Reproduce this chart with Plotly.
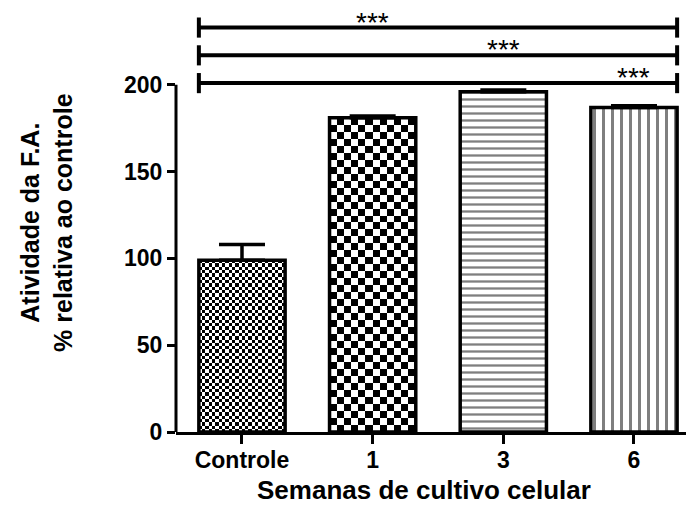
import plotly.graph_objects as go

# dados
categorias = ["Controle", "1", "3", "6"]
media = [99, 181, 196, 187]
erro = [9, 1, 1, 1]

# barras de significância (nível em y e posição do texto)
sig_nivel = [233, 217, 201]
sig_texto = ["***", "***", "***"]
sig_grupo = [1, 2, 3]

largura = 0.66
px_x = 130.7   # pixels por categoria
px_y = 1.735   # pixels por unidade de y

x = list(range(len(categorias)))
fig = go.Figure()


def xadrez(i, celula_px):
    """textura quadriculada dentro da barra i"""
    nx = max(1, round(largura * px_x / celula_px))
    ny = max(1, round(media[i] * px_y / celula_px))
    dx = largura / nx
    dy = media[i] / ny
    z = [[(r + c) % 2 for c in range(nx)] for r in range(ny)]
    return go.Heatmap(z=z, x0=x[i] - largura / 2 + dx / 2, dx=dx,
                      y0=dy / 2, dy=dy, zmin=0, zmax=1,
                      colorscale=[[0, "white"], [1, "black"]],
                      showscale=False, hoverinfo="skip")


fig.add_trace(xadrez(0, 3.3))
fig.add_trace(xadrez(1, 7))

padroes = ["", "", "-", "|"]
tamanhos = [8, 8, 7, 9]
fig.add_trace(go.Bar(
    x=x, y=media, width=largura,
    marker=dict(color="rgba(0,0,0,0)",
                line=dict(color="black", width=3.5),
                pattern=dict(shape=padroes, size=tamanhos, solidity=0.33,
                             fgcolor="black", bgcolor="rgba(0,0,0,0)")),
    error_y=dict(type="data", symmetric=False, array=erro,
                 arrayminus=[0] * len(erro), color="black",
                 thickness=3.5, width=23),
    showlegend=False,
))

x0 = x[0] - largura / 2
x1 = x[-1] + largura / 2
for nivel, txt, g in zip(sig_nivel, sig_texto, sig_grupo):
    fig.add_shape(type="line", x0=x0, x1=x1, y0=nivel, y1=nivel,
                  xref="x", yref="y", line=dict(color="black", width=4))
    for xe in (x0, x1):
        fig.add_shape(type="line", x0=xe, x1=xe, y0=nivel - 5.8, y1=nivel + 5.8,
                      xref="x", yref="y", line=dict(color="black", width=4))
    fig.add_annotation(x=g, y=nivel + 3.2, text=txt, showarrow=False,
                       yanchor="middle", xanchor="center",
                       font=dict(family="Liberation Sans, Arial", size=28, color="black"))

# eixo y termina em 200
fig.add_shape(type="line", x0=0, x1=0, xref="paper", y0=0, y1=200, yref="y",
              line=dict(color="black", width=3))

fig.add_annotation(x=-0.253, y=0.492, xref="paper", yref="paper",
                   xanchor="center", yanchor="middle",
                   text="Atividade da F.A.<br>% relativa ao controle",
                   textangle=-90, showarrow=False,
                   font=dict(family="Liberation Sans, Arial", size=25, color="black", weight="bold"))
fig.add_annotation(x=0.486, y=-0.136, xref="paper", yref="paper",
                   xanchor="center", yanchor="middle",
                   text="Semanas de cultivo celular", showarrow=False,
                   font=dict(family="Liberation Sans, Arial", size=26, color="black", weight="bold"))

fonte_ticks = dict(family="Liberation Sans, Arial", size=23, color="black", weight="bold")
fig.update_xaxes(range=[-0.505, 3.398], tickvals=x, ticktext=categorias,
                 showline=True, linewidth=3, linecolor="black",
                 ticks="outside", ticklen=9, tickwidth=3, tickcolor="black",
                 ticklabelstandoff=-4,
                 showgrid=False, zeroline=False, tickfont=fonte_ticks)
fig.update_yaxes(range=[0, 246], tickvals=[0, 50, 100, 150, 200],
                 showline=False, ticks="outside", ticklen=8, tickwidth=3,
                 tickcolor="black", showgrid=False, zeroline=False,
                 tickfont=fonte_ticks)
fig.update_layout(width=689, height=510, plot_bgcolor="white", paper_bgcolor="white",
                  margin=dict(l=176, r=3, t=5, b=78), showlegend=False)

fig.write_html("out.html", config={"displayModeBar": False},
               post_script="document.body.style.margin='0';")
